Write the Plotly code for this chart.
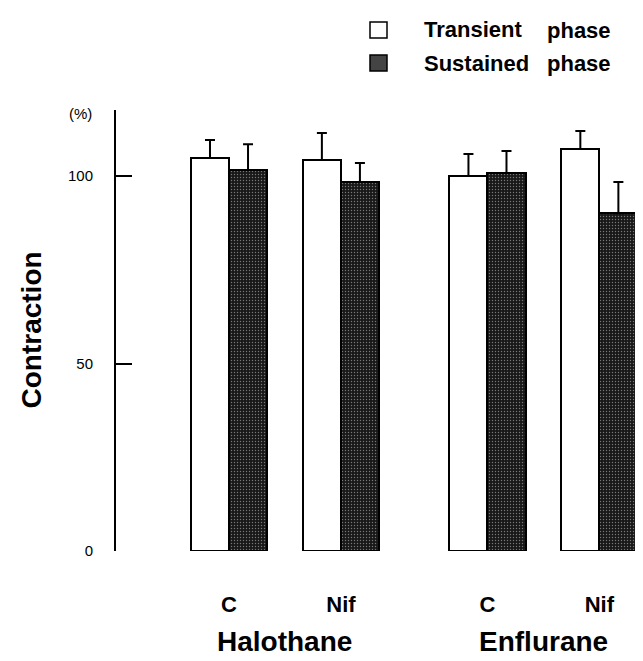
import plotly.graph_objects as go

groups = ["Halothane", "Enflurane"]
conditions = ["C", "Nif"]
transient = [104.8, 104.3, 100.0, 107.2]
transient_err = [4.8, 7.2, 5.9, 4.8]
sustained = [101.6, 98.4, 100.8, 90.1]
sustained_err = [6.9, 5.1, 5.9, 8.3]
y_ticks = [0, 50, 100]
legend_names = ["Transient", "Sustained"]
legend_suffix = "phase"

GROUP_STEP = 2.31
COND_STEP = 1.0
BAR_W = 0.34

W, H = 635, 653
L, R, T, B = 108, 0, 102, 110
PW, PH = W - L - R, H - T - B


def px(xp):
    return (xp - L) / PW


def py(yp):
    return 1 - (yp - T) / PH


xpos = []
xlabels = []
for gi, g in enumerate(groups):
    for ci, c in enumerate(conditions):
        xpos.append(gi * GROUP_STEP + ci * COND_STEP)
        xlabels.append(c)

font_family = "Liberation Sans, Arial, Helvetica, sans-serif"

fig = go.Figure()
fig.add_trace(go.Bar(
    x=xpos, y=transient, width=BAR_W, offset=-BAR_W,
    name=legend_names[0], showlegend=False,
    marker=dict(color="white", line=dict(color="black", width=2)),
    error_y=dict(type="data", symmetric=False, array=transient_err,
                 arrayminus=[0] * len(transient), color="black", thickness=2, width=5),
))
fig.add_trace(go.Bar(
    x=xpos, y=sustained, width=BAR_W, offset=0,
    name=legend_names[1], showlegend=False,
    marker=dict(color="#222222", line=dict(color="black", width=2),
                pattern=dict(shape=".", bgcolor="#181818", fgcolor="#d8d8d8",
                             size=3, solidity=0.17)),
    error_y=dict(type="data", symmetric=False, array=sustained_err,
                 arrayminus=[0] * len(sustained), color="black", thickness=2, width=5),
))

# group labels
for gi, g in enumerate(groups):
    cx = gi * GROUP_STEP + COND_STEP / 2
    fig.add_annotation(x=cx, xref="x", y=py(633), yref="paper", text="<b>%s</b>" % g,
                       showarrow=False, font=dict(size=28, color="black", family=font_family),
                       yanchor="middle")

# y-axis title and unit
fig.add_annotation(x=px(23), xref="paper", y=0.5, yref="paper", text="<b>Contraction</b>",
                   textangle=-90, showarrow=False, xanchor="center", yanchor="middle",
                   font=dict(size=28, color="black", family=font_family))
fig.add_annotation(x=px(72), xref="paper", y=py(105), yref="paper", text="(%)", showarrow=False,
                   xanchor="center", yanchor="middle",
                   font=dict(size=15, color="black", family=font_family))

# custom legend
legend_fills = ["white", "#444444"]
legend_rows = [22, 55]
for name, fill, yc in zip(legend_names, legend_fills, legend_rows):
    fig.add_shape(type="rect", xref="paper", yref="paper",
                  x0=px(362), x1=px(379), y0=py(yc - 8), y1=py(yc + 8),
                  fillcolor=fill, line=dict(color="black", width=1.5))
    fig.add_annotation(x=px(414), xref="paper", y=py(yc), yref="paper", text="<b>%s</b>" % name,
                       showarrow=False, xanchor="left", yanchor="middle",
                       font=dict(size=22, color="black", family=font_family))
    fig.add_annotation(x=px(537), xref="paper", y=py(yc + 1), yref="paper",
                       text="<b>%s</b>" % legend_suffix,
                       showarrow=False, xanchor="left", yanchor="middle",
                       font=dict(size=22, color="black", family=font_family))

fig.update_layout(
    width=W, height=H,
    margin=dict(l=L, r=R, t=T, b=B),
    paper_bgcolor="white", plot_bgcolor="white",
    showlegend=False,
    font=dict(family=font_family, color="black"),
    bargap=0,
)
fig.update_xaxes(range=[-1.01, 3.70], tickvals=xpos, ticktext=["<b>%s</b>" % t for t in xlabels],
                 tickfont=dict(size=22, color="black"), showline=False, showgrid=False,
                 zeroline=False, ticks="", ticklabelstandoff=38)
fig.update_yaxes(range=[0, 117.6], tickvals=y_ticks, showline=True, linecolor="black", linewidth=2,
                 ticks="inside", ticklen=16, tickwidth=2, tickcolor="black",
                 tickfont=dict(size=15, color="black"), showgrid=False, zeroline=False,
                 ticklabelstandoff=18)

fig.write_html("out.html")
